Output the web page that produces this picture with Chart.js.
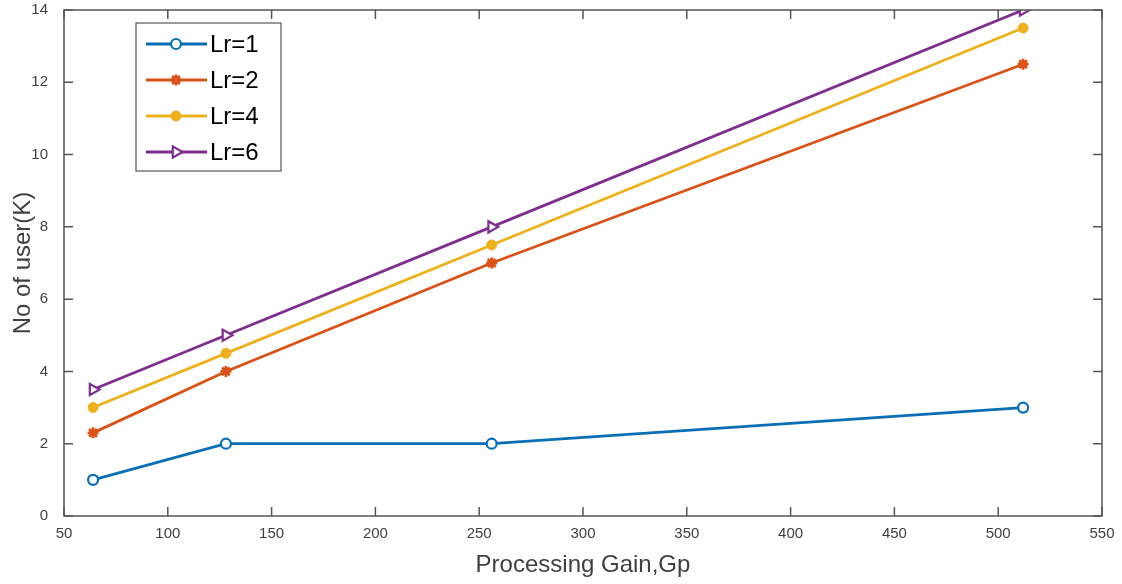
<!DOCTYPE html>
<html>
<head>
<meta charset="utf-8">
<script src="https://cdn.jsdelivr.net/npm/chart.js@4/dist/chart.umd.min.js"></script>
<style>
  html, body { margin: 0; padding: 0; background: #fff; }
  #wrap { width: 1122px; height: 584px; }
</style>
</head>
<body>
<div id="wrap"><canvas id="chart" width="1122" height="584"></canvas></div>
<script>
const gains = [64, 128, 256, 512];
const lr1 = [1, 2, 2, 3];
const lr2 = [2.3, 4, 7, 12.5];
const lr4 = [3, 4.5, 7.5, 13.5];
const lr6 = [3.5, 5, 8, 14];
const xTicks = [50, 100, 150, 200, 250, 300, 350, 400, 450, 500, 550];
const yTicks = [0, 2, 4, 6, 8, 10, 12, 14];

const font = '"Liberation Sans", Arial, Helvetica, sans-serif';
const axisColor = '#555';

const toPoints = ys => ys.map((y, i) => ({ x: gains[i], y: y }));

// box round the plot, with ticks pointing inward like matlab
const boxPlugin = {
  id: 'box',
  afterDatasetsDraw(c) {
    const ctx = c.ctx, a = c.chartArea;
    const xs = c.scales.x, ys = c.scales.y;
    ctx.save();
    ctx.strokeStyle = axisColor;
    ctx.lineWidth = 1.5;
    ctx.strokeRect(a.left, a.top, a.right - a.left, a.bottom - a.top);
    ctx.beginPath();
    xTicks.forEach(v => {
      const px = xs.getPixelForValue(v);
      ctx.moveTo(px, a.bottom); ctx.lineTo(px, a.bottom - 9);
      ctx.moveTo(px, a.top); ctx.lineTo(px, a.top + 9);
    });
    yTicks.forEach(v => {
      const py = ys.getPixelForValue(v);
      ctx.moveTo(a.left, py); ctx.lineTo(a.left + 9, py);
      ctx.moveTo(a.right, py); ctx.lineTo(a.right - 9, py);
    });
    ctx.stroke();
    ctx.restore();
  }
};

// legend drawn by hand so each row shows line + marker
const legendPlugin = {
  id: 'lineLegend',
  afterDraw(c) {
    const ctx = c.ctx;
    const bx = 136, by = 23, bw = 145, bh = 148;
    ctx.save();
    ctx.fillStyle = '#fff';
    ctx.fillRect(bx, by, bw, bh);
    ctx.strokeStyle = axisColor;
    ctx.lineWidth = 1.2;
    ctx.strokeRect(bx, by, bw, bh);
    c.data.datasets.forEach((ds, i) => {
      const y = 44 + i * 36;
      ctx.strokeStyle = ds.borderColor;
      ctx.lineWidth = ds.borderWidth;
      ctx.beginPath();
      ctx.moveTo(146, y); ctx.lineTo(207, y);
      ctx.stroke();
      ctx.fillStyle = ds.pointBackgroundColor;
      ctx.strokeStyle = ds.borderColor;
      ctx.lineWidth = ds.pointBorderWidth;
      Chart.helpers.drawPoint(ctx, {
        pointStyle: ds.pointStyle,
        rotation: ds.pointRotation || 0,
        radius: ds.pointRadius,
        borderWidth: ds.pointBorderWidth
      }, 176, y);
      ctx.fillStyle = '#000';
      ctx.font = '24px ' + font;
      ctx.textBaseline = 'middle';
      ctx.fillText(ds.label, 210, y + 1);
    });
    ctx.restore();
  }
};

new Chart(document.querySelector('#chart').getContext('2d'), {
  type: 'line',
  data: {
    datasets: [
      {
        label: 'Lr=1',
        data: toPoints(lr1),
        borderColor: '#0A6EB4',
        borderWidth: 2.8,
        pointStyle: 'circle',
        pointRadius: 5,
        pointBorderWidth: 2.2,
        pointBackgroundColor: '#fff'
      },
      {
        label: 'Lr=2',
        data: toPoints(lr2),
        borderColor: '#D95319',
        borderWidth: 2.8,
        pointStyle: 'star',
        pointRadius: 5.5,
        pointBorderWidth: 2.8,
        pointBackgroundColor: '#D95319'
      },
      {
        label: 'Lr=4',
        data: toPoints(lr4),
        borderColor: '#EDB120',
        borderWidth: 2.8,
        pointStyle: 'circle',
        pointRadius: 5,
        pointBorderWidth: 1,
        pointBackgroundColor: '#EDB120'
      },
      {
        label: 'Lr=6',
        data: toPoints(lr6),
        borderColor: '#7E2F8E',
        borderWidth: 2.8,
        pointStyle: 'triangle',
        pointRotation: 90,
        pointRadius: 6.5,
        pointBorderWidth: 2.2,
        pointBackgroundColor: '#fff'
      }
    ]
  },
  options: {
    responsive: false,
    animation: false,
    layout: { padding: { left: 0, right: 20, top: 10, bottom: 0 } },
    plugins: {
      legend: { display: false },
      tooltip: { enabled: false }
    },
    elements: { line: { tension: 0 } },
    scales: {
      x: {
        type: 'linear',
        min: 50,
        max: 550,
        afterFit: s => { s.height = 68; s.paddingLeft = 0; s.paddingRight = 0; },
        afterBuildTicks: s => { s.ticks = xTicks.map(v => ({ value: v })); },
        grid: { display: false },
        border: { display: false },
        ticks: { color: '#404040', font: { family: font, size: 15 }, padding: 1, maxRotation: 0 },
        title: { display: true, text: 'Processing Gain,Gp', color: '#404040', font: { family: font, size: 24 }, padding: { top: 8, bottom: 4 } }
      },
      y: {
        min: 0,
        max: 14,
        afterFit: s => { s.width = 64; s.paddingTop = 0; s.paddingBottom = 0; },
        afterBuildTicks: s => { s.ticks = yTicks.map(v => ({ value: v })); },
        grid: { display: false },
        border: { display: false },
        ticks: { color: '#404040', font: { family: font, size: 15 }, padding: 8 },
        title: { display: true, text: 'No of user(K)', color: '#404040', font: { family: font, size: 24 }, padding: { top: 9, bottom: 4 } }
      }
    }
  },
  plugins: [boxPlugin, legendPlugin]
});
</script>
</body>
</html>
